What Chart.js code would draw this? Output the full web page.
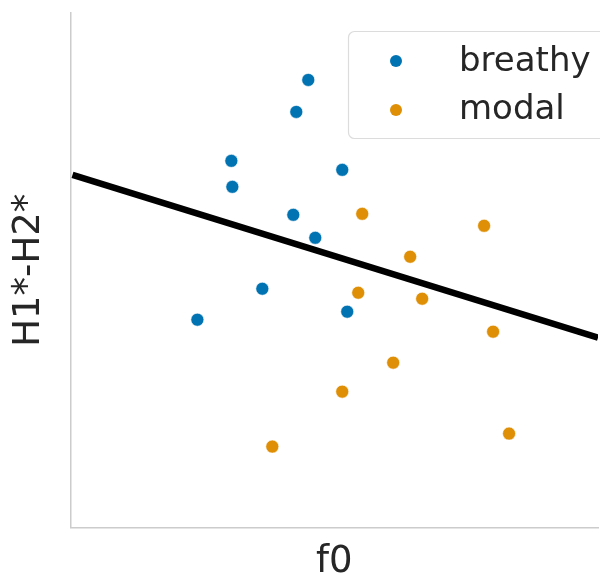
<!DOCTYPE html>
<html>
<head>
<meta charset="utf-8">
<script src="https://cdn.jsdelivr.net/npm/chart.js@4/dist/chart.umd.min.js"></script>
<style>
  html, body { margin: 0; padding: 0; background: #fff; }
  #wrap { width: 600px; height: 581px; }
</style>
</head>
<body>
<div id="wrap"><canvas id="c" width="600" height="581"></canvas></div>
<script>
// values (arbitrary units, no ticks shown)
const breathyF0 = [238, 226, 161, 162, 272, 223, 245, 192, 127, 277];
const breathyH = [448, 416, 367, 341, 358, 313, 290, 239, 208, 216];
const modalF0 = [292, 414, 340, 288, 352, 423, 323, 272, 202, 439];
const modalH = [314, 302, 271, 235, 229, 196, 165, 136, 81, 94];
const fitF0 = [2, 528];
const fitH = [353, 190];

const blue = '#0173b2';
const orange = '#de8f05';
const textColor = '#262626';

const toPoints = (xs, ys) => xs.map((x, i) => ({ x: x, y: ys[i] }));

// legend drawn inside the plot, like matplotlib's boxed legend
const boxLegend = {
    id: 'boxLegend',
    afterDraw(chart) {
        const ctx = chart.ctx;
        const items = chart.data.datasets.filter(d => d.type === 'scatter');
        ctx.save();
        ctx.beginPath();
        ctx.roundRect(348.5, 31.5, 260, 107, 6);
        ctx.fillStyle = 'rgba(255,255,255,0.8)';
        ctx.fill();
        ctx.strokeStyle = '#dcdcdc';
        ctx.lineWidth = 1.2;
        ctx.stroke();
        ctx.font = '34px "DejaVu Sans"';
        ctx.textBaseline = 'alphabetic';
        items.forEach((d, i) => {
            const y = 61 + i * 49;
            ctx.beginPath();
            ctx.arc(396, y, 6, 0, Math.PI * 2);
            ctx.fillStyle = d.backgroundColor;
            ctx.fill();
            ctx.fillStyle = textColor;
            ctx.fillText(d.label, 459, 71 + i * 48);
        });
        ctx.restore();
    }
};

new Chart(document.getElementById('c').getContext('2d'), {
    data: {
        datasets: [
            {
                type: 'scatter',
                label: 'breathy',
                data: toPoints(breathyF0, breathyH),
                backgroundColor: blue,
                borderColor: '#ffffff',
                borderWidth: 0.6,
                pointRadius: 6.5,
                order: 2
            },
            {
                type: 'scatter',
                label: 'modal',
                data: toPoints(modalF0, modalH),
                backgroundColor: orange,
                borderColor: '#ffffff',
                borderWidth: 0.6,
                pointRadius: 6.5,
                order: 2
            },
            {
                type: 'line',
                label: 'fit',
                data: toPoints(fitF0, fitH),
                borderColor: '#000000',
                borderWidth: 6.5,
                pointRadius: 0,
                fill: false,
                order: 1
            }
        ]
    },
    options: {
        responsive: false,
        animation: false,
        layout: { autoPadding: false, padding: { top: 13, right: 2, left: 0, bottom: 0 } },
        plugins: {
            legend: { display: false },
            tooltip: { enabled: false }
        },
        scales: {
            x: {
                type: 'linear',
                min: 0,
                max: 528,
                ticks: { display: false },
                grid: { display: false },
                border: { display: true, color: '#cccccc', width: 1.5 },
                title: {
                    display: true,
                    text: 'f0',
                    color: textColor,
                    font: { family: 'DejaVu Sans', size: 37, lineHeight: 1 },
                    padding: { top: 0, bottom: 0 }
                },
                afterFit(scale) { scale.height = 53.5; }
            },
            y: {
                type: 'linear',
                min: 0,
                max: 515,
                ticks: { display: false },
                grid: { display: false },
                border: { display: true, color: '#cccccc', width: 1.5 },
                title: {
                    display: true,
                    text: 'H1*-H2*',
                    color: textColor,
                    font: { family: 'DejaVu Sans', size: 37, lineHeight: 1 },
                    padding: { top: 10.5, bottom: 0 }
                },
                afterFit(scale) { scale.width = 70.5; }
            }
        }
    },
    plugins: [boxLegend]
});
</script>
</body>
</html>
